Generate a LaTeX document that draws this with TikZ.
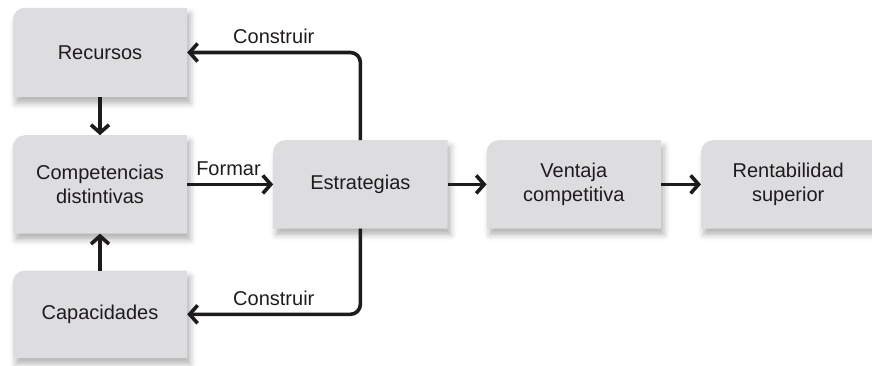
\documentclass[tikz,border=0pt]{standalone}
\usepackage{xcolor}
\usepackage{fontspec}
\setmainfont{Liberation Sans}
\usepackage{tikz}
\usetikzlibrary{positioning,arrows.meta,backgrounds,shadows.blur}
\definecolor{boxgray}{RGB}{221,221,223}
\definecolor{inkdark}{RGB}{30,27,28}
\tikzstyle{block} = [rectangle, text width=174pt, inner sep=0pt, align=center,
    minimum height=88pt, text=inkdark, font=\fontsize{20}{24}\selectfont]
\tikzstyle{boxbg} = [fill=boxgray, blur shadow={shadow xshift=3pt, shadow yshift=-6pt,
    shadow blur radius=6pt, shadow opacity=30}]
\tikzstyle{line} = [draw=inkdark, line width=3.6pt, -{Straight Barb[length=8pt,width=18pt]}]
\tikzstyle{lbl} = [text=inkdark, font=\fontsize{20}{24}\selectfont, inner sep=7pt]

\begin{document}
\begin{tikzpicture}
    \useasboundingbox (0pt,0pt) rectangle (872pt,-365pt);
    % Place nodes
    \node [block, minimum height=89pt] (rec) at (100pt,-52.5pt) {Recursos};
    \node [block, minimum height=98pt, below=38pt of rec] (comp) {Competencias\\distintivas};
    \node [block, minimum height=87pt, below=37pt of comp] (cap) {Capacidades};
    \node [block, right=86pt of comp] (estr) {Estrategias};
    \node [block, right=39pt of estr] (vent) {Ventaja\\competitiva};
    \node [block, right=40pt of vent] (rent) {Rentabilidad\\superior};
    % Boxes
    \begin{scope}[on background layer]
    \foreach \n in {rec,comp,cap,estr,vent,rent}
        \path [boxbg] (\n.south west) -- ([yshift=-12pt]\n.north west)
            arc[start angle=180, end angle=90, radius=12pt] -- (\n.north east)
            -- (\n.south east) -- cycle;
    \end{scope}
    % Draw edges
    \path [line] (rec) -- (comp);
    \path [line] (cap) -- (comp);
    \path [line] (comp) -- node [lbl, above, pos=0.48] {Formar} (estr);
    \path [line] (estr) -- (vent);
    \path [line] (vent) -- (rent);
    \path [line, rounded corners=10pt] (estr.north) |- node [lbl, above, pos=0.75] {Construir} (rec.east);
    \path [line, rounded corners=10pt] (estr.south) |- node [lbl, above, pos=0.75] {Construir} (cap.east);
\end{tikzpicture}
\end{document}
